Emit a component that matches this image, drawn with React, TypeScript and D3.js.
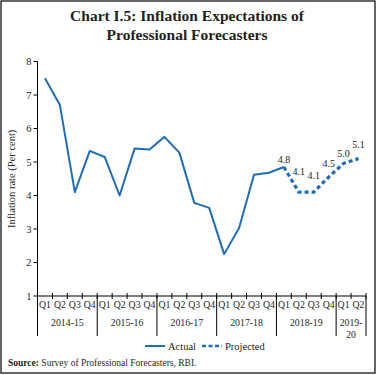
import React from "react";
import * as d3 from "d3";

const years = ["2014-15", "2015-16", "2016-17", "2017-18", "2018-19", "2019-20"];
const quartersPerYear = [4, 4, 4, 4, 4, 2];
const quarterNames = ["Q1", "Q2", "Q3", "Q4"];
const actualValues = [7.5, 6.7, 4.1, 5.33, 5.15, 4.0, 5.4, 5.37, 5.75, 5.28, 3.78, 3.63, 2.25, 3.03, 4.62, 4.68, 4.85];
const projectedValues = [4.85, 4.1, 4.1, 4.55, 4.96, 5.1];
const projectedLabels = ["4.8", "4.1", "4.1", "4.5", "5.0", "5.1"];
const labelDy = [-8, -21, -17, -14, -10, -14];
const yTicks = [1, 2, 3, 4, 5, 6, 7, 8];

const W = 377;
const H = 375;
const blue = "#1f6db5";

export default function App() {
  const cats: string[] = [];
  years.forEach((yr, i) => {
    for (let q = 0; q < quartersPerYear[i]; q++) cats.push(`${yr}-${quarterNames[q]}`);
  });
  const x = d3.scaleBand<string>().domain(cats).range([37.5, 366]).padding(0);
  const y = d3.scaleLinear().domain([1, 8]).range([296, 61.5]);
  const cx = (i: number) => (x(cats[i]) as number) + x.bandwidth() / 2;
  const line = d3
    .line<number>()
    .x((_, i) => cx(i))
    .y((d) => y(d));
  const projStart = actualValues.length - 1;
  const lineP = d3
    .line<number>()
    .x((_, i) => cx(projStart + i))
    .y((d) => y(d));

  const groupStarts: number[] = [];
  let acc = 0;
  quartersPerYear.forEach((n) => {
    groupStarts.push(acc);
    acc += n;
  });
  const bw = x.bandwidth();
  const x0 = x.range()[0];
  const serif = "'Liberation Serif', 'Times New Roman', serif";

  return (
    <svg width={W} height={H} style={{ position: "absolute", left: 0, top: 0, background: "#fff" }} fontFamily={serif}>
      <rect x={1} y={1} width={374} height={372} fill="#fff" stroke="#000" strokeWidth={1.2} />
      <text x={187} y={21} textAnchor="middle" fontSize={15.5} fontWeight="bold" fill="#231f20">
        Chart I.5: Inflation Expectations of
      </text>
      <text x={187} y={40} textAnchor="middle" fontSize={15.5} fontWeight="bold" fill="#231f20">
        Professional Forecasters
      </text>

      {/* Y axis */}
      <line x1={x0} x2={x0} y1={y(8)} y2={y(1)} stroke="#000" strokeWidth={1} />
      {yTicks.map((t) => (
        <g key={t}>
          <line x1={x0 - 4} x2={x0} y1={y(t)} y2={y(t)} stroke="#000" />
          <text x={x0 - 6} y={y(t) + 3.5} textAnchor="end" fontSize={10.5} fill="#231f20">
            {t}
          </text>
        </g>
      ))}
      <text
        transform={`translate(15, ${(y(8) + y(1)) / 2}) rotate(-90)`}
        textAnchor="middle"
        fontSize={10.5}
        fill="#231f20"
      >
        Inflation rate (Per cent)
      </text>

      {/* X axis */}
      <line x1={x0} x2={x.range()[1]} y1={y(1)} y2={y(1)} stroke="#000" />
      {cats.map((c, i) => (
        <g key={c}>
          <line x1={(x(c) as number) + bw} x2={(x(c) as number) + bw} y1={y(1) - 3} y2={y(1) + 3} stroke="#000" />
          <text x={cx(i)} y={y(1) + 12} textAnchor="middle" fontSize={9.8} fill="#231f20">
            {c.split("-").pop()}
          </text>
        </g>
      ))}
      {groupStarts.map((s, gi) => {
        const gx = x0 + s * bw;
        const gw = quartersPerYear[gi] * bw;
        const parts = quartersPerYear[gi] < 4 ? [years[gi].slice(0, 5), years[gi].slice(5)] : [years[gi]];
        return (
          <g key={years[gi]}>
            <line x1={gx} x2={gx} y1={y(1)} y2={y(1) + 40} stroke="#000" />
            {parts.map((p, pi) => (
              <text key={pi} x={gx + gw / 2} y={y(1) + 30 + pi * 12} textAnchor="middle" fontSize={9.8} fill="#231f20">
                {p}
              </text>
            ))}
          </g>
        );
      })}
      <line x1={x.range()[1]} x2={x.range()[1]} y1={y(1)} y2={y(1) + 40} stroke="#000" />

      {/* Lines */}
      <path d={line(actualValues) || ""} fill="none" stroke={blue} strokeWidth={2} strokeLinejoin="round" />
      <path d={lineP(projectedValues) || ""} fill="none" stroke={blue} strokeWidth={3.2} strokeDasharray="4,3" />
      {projectedValues.map((v, i) => (
        <text key={i} x={cx(projStart + i)} y={y(v) + labelDy[i] + 3.5} textAnchor="middle" fontSize={10} fill="#231f20">
          {projectedLabels[i]}
        </text>
      ))}

      {/* Legend */}
      <line x1={145} x2={165} y1={346} y2={346} stroke={blue} strokeWidth={2} />
      <text x={168} y={349.5} fontSize={10.5} fill="#231f20">Actual</text>
      <line x1={202} x2={222} y1={346} y2={346} stroke={blue} strokeWidth={2.5} strokeDasharray="4,2.5" />
      <text x={225} y={349.5} fontSize={10.5} fill="#231f20">Projected</text>

      <text x={8} y={366} fontSize={9.5} fill="#231f20">
        <tspan fontWeight="bold">Source:</tspan> Survey of Professional Forecasters, RBI.
      </text>
    </svg>
  );
}
